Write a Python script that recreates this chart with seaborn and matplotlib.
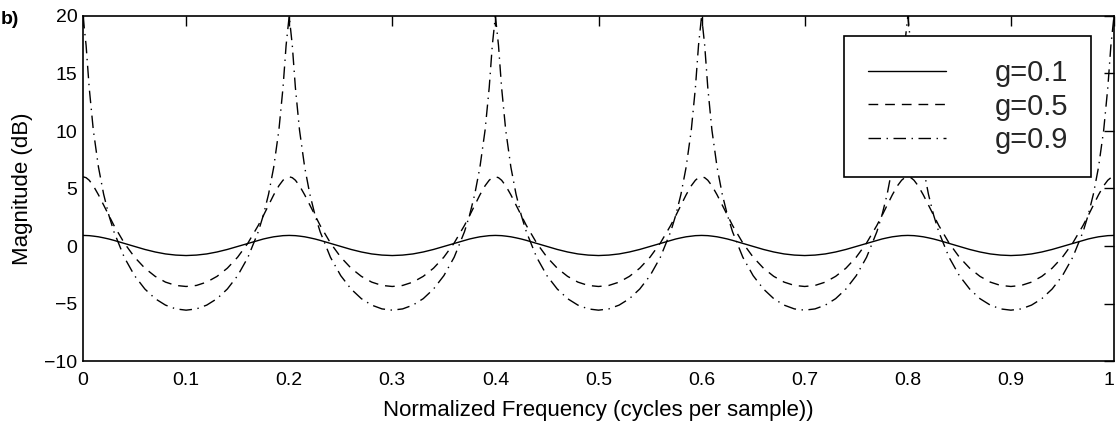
import matplotlib
matplotlib.use("Agg")
import matplotlib.pyplot as plt
import seaborn as sns
import pandas as pd

# ---- data ----
freq = [
    0.000, 0.003, 0.006, 0.010, 0.015, 0.020, 0.025, 0.030, 0.040, 0.050, 0.060, 0.070, 0.080, 0.090, 0.100, 0.110, 0.120, 0.130, 0.140, 0.150, 0.160, 0.170, 0.175, 0.180, 0.185, 0.190, 0.194, 0.197,
    0.200, 0.203, 0.206, 0.210, 0.215, 0.220, 0.225, 0.230, 0.240, 0.250, 0.260, 0.270, 0.280, 0.290, 0.300, 0.310, 0.320, 0.330, 0.340, 0.350, 0.360, 0.370, 0.375, 0.380, 0.385, 0.390, 0.394, 0.397,
    0.400, 0.403, 0.406, 0.410, 0.415, 0.420, 0.425, 0.430, 0.440, 0.450, 0.460, 0.470, 0.480, 0.490, 0.500, 0.510, 0.520, 0.530, 0.540, 0.550, 0.560, 0.570, 0.575, 0.580, 0.585, 0.590, 0.594, 0.597,
    0.600, 0.603, 0.606, 0.610, 0.615, 0.620, 0.625, 0.630, 0.640, 0.650, 0.660, 0.670, 0.680, 0.690, 0.700, 0.710, 0.720, 0.730, 0.740, 0.750, 0.760, 0.770, 0.775, 0.780, 0.785, 0.790, 0.794, 0.797,
    0.800, 0.803, 0.806, 0.810, 0.815, 0.820, 0.825, 0.830, 0.840, 0.850, 0.860, 0.870, 0.880, 0.890, 0.900, 0.910, 0.920, 0.930, 0.940, 0.950, 0.960, 0.970, 0.975, 0.980, 0.985, 0.990, 0.994, 0.997,
    1.000,
]

mag_g01 = [
    0.92, 0.91, 0.90, 0.86, 0.80, 0.71, 0.61, 0.49, 0.23, -0.04, -0.30, -0.52, -0.69, -0.79, -0.83, -0.79, -0.69, -0.52, -0.30, -0.04, 0.23, 0.49, 0.61, 0.71, 0.80, 0.86, 0.90, 0.91,
    0.92, 0.91, 0.90, 0.86, 0.80, 0.71, 0.61, 0.49, 0.23, -0.04, -0.30, -0.52, -0.69, -0.79, -0.83, -0.79, -0.69, -0.52, -0.30, -0.04, 0.23, 0.49, 0.61, 0.71, 0.80, 0.86, 0.90, 0.91,
    0.92, 0.91, 0.90, 0.86, 0.80, 0.71, 0.61, 0.49, 0.23, -0.04, -0.30, -0.52, -0.69, -0.79, -0.83, -0.79, -0.69, -0.52, -0.30, -0.04, 0.23, 0.49, 0.61, 0.71, 0.80, 0.86, 0.90, 0.91,
    0.92, 0.91, 0.90, 0.86, 0.80, 0.71, 0.61, 0.49, 0.23, -0.04, -0.30, -0.52, -0.69, -0.79, -0.83, -0.79, -0.69, -0.52, -0.30, -0.04, 0.23, 0.49, 0.61, 0.71, 0.80, 0.86, 0.90, 0.91,
    0.92, 0.91, 0.90, 0.86, 0.80, 0.71, 0.61, 0.49, 0.23, -0.04, -0.30, -0.52, -0.69, -0.79, -0.83, -0.79, -0.69, -0.52, -0.30, -0.04, 0.23, 0.49, 0.61, 0.71, 0.80, 0.86, 0.90, 0.91,
    0.92,
]

mag_g05 = [
    6.02, 5.94, 5.72, 5.24, 4.45, 3.56, 2.65, 1.79, 0.26, -0.97, -1.93, -2.64, -3.14, -3.43, -3.52, -3.43, -3.14, -2.64, -1.93, -0.97, 0.26, 1.79, 2.65, 3.56, 4.45, 5.24, 5.72, 5.94,
    6.02, 5.94, 5.72, 5.24, 4.45, 3.56, 2.65, 1.79, 0.26, -0.97, -1.93, -2.64, -3.14, -3.43, -3.52, -3.43, -3.14, -2.64, -1.93, -0.97, 0.26, 1.79, 2.65, 3.56, 4.45, 5.24, 5.72, 5.94,
    6.02, 5.94, 5.72, 5.24, 4.45, 3.56, 2.65, 1.79, 0.26, -0.97, -1.93, -2.64, -3.14, -3.43, -3.52, -3.43, -3.14, -2.64, -1.93, -0.97, 0.26, 1.79, 2.65, 3.56, 4.45, 5.24, 5.72, 5.94,
    6.02, 5.94, 5.72, 5.24, 4.45, 3.56, 2.65, 1.79, 0.26, -0.97, -1.93, -2.64, -3.14, -3.43, -3.52, -3.43, -3.14, -2.64, -1.93, -0.97, 0.26, 1.79, 2.65, 3.56, 4.45, 5.24, 5.72, 5.94,
    6.02, 5.94, 5.72, 5.24, 4.45, 3.56, 2.65, 1.79, 0.26, -0.97, -1.93, -2.64, -3.14, -3.43, -3.52, -3.43, -3.14, -2.64, -1.93, -0.97, 0.26, 1.79, 2.65, 3.56, 4.45, 5.24, 5.72, 5.94,
    6.02,
]

mag_g09 = [
    20.00, 17.45, 13.78, 10.08, 6.86, 4.51, 2.70, 1.24, -0.98, -2.58, -3.74, -4.58, -5.14, -5.47, -5.58, -5.47, -5.14, -4.58, -3.74, -2.58, -0.98, 1.24, 2.70, 4.51, 6.86, 10.08, 13.78, 17.45,
    20.00, 17.45, 13.78, 10.08, 6.86, 4.51, 2.70, 1.24, -0.98, -2.58, -3.74, -4.58, -5.14, -5.47, -5.58, -5.47, -5.14, -4.58, -3.74, -2.58, -0.98, 1.24, 2.70, 4.51, 6.86, 10.08, 13.78, 17.45,
    20.00, 17.45, 13.78, 10.08, 6.86, 4.51, 2.70, 1.24, -0.98, -2.58, -3.74, -4.58, -5.14, -5.47, -5.58, -5.47, -5.14, -4.58, -3.74, -2.58, -0.98, 1.24, 2.70, 4.51, 6.86, 10.08, 13.78, 17.45,
    20.00, 17.45, 13.78, 10.08, 6.86, 4.51, 2.70, 1.24, -0.98, -2.58, -3.74, -4.58, -5.14, -5.47, -5.58, -5.47, -5.14, -4.58, -3.74, -2.58, -0.98, 1.24, 2.70, 4.51, 6.86, 10.08, 13.78, 17.45,
    20.00, 17.45, 13.78, 10.08, 6.86, 4.51, 2.70, 1.24, -0.98, -2.58, -3.74, -4.58, -5.14, -5.47, -5.58, -5.47, -5.14, -4.58, -3.74, -2.58, -0.98, 1.24, 2.70, 4.51, 6.86, 10.08, 13.78, 17.45,
    20.00,
]

series_labels = ["g=0.1", "g=0.5", "g=0.9"]
x_ticks = [0, 0.1, 0.2, 0.3, 0.4, 0.5, 0.6, 0.7, 0.8, 0.9, 1.0]
x_tick_labels = ["0", "0.1", "0.2", "0.3", "0.4", "0.5", "0.6", "0.7", "0.8", "0.9", "1"]
y_ticks = [-10, -5, 0, 5, 10, 15, 20]

# ---- styling ----
sns.set_theme(style="white")
plt.rcParams["font.family"] = ["Liberation Sans", "DejaVu Sans"]
plt.rcParams["axes.unicode_minus"] = True

fig = plt.figure(figsize=(11.17, 4.23), dpi=100)
ax = fig.add_axes([83 / 1117, 1 - 361 / 423, (1114 - 83) / 1117, (361 - 16) / 423])

df = pd.DataFrame({"freq": freq, series_labels[0]: mag_g01,
                   series_labels[1]: mag_g05, series_labels[2]: mag_g09})

styles = ["-", (0, (7, 5)), (0, (9, 4, 1, 4))]
for lab, ls in zip(series_labels, styles):
    sns.lineplot(data=df, x="freq", y=lab, ax=ax, color="black", linewidth=1.0,
                 linestyle=ls, label=lab, estimator=None, sort=False)

ax.set_xlim(0, 1)
ax.set_ylim(-10, 20)
ax.set_xticks(x_ticks)
ax.set_xticklabels(x_tick_labels)
ax.set_yticks(y_ticks)
ax.tick_params(direction="in", top=True, right=True, length=7, width=1.0,
               labelsize=14, colors="black", pad=4)
ax.tick_params(axis="x", pad=8)
# keep the last label "1" inside the canvas
ax.get_xticklabels()[-1].set_horizontalalignment("right")
for sp in ax.spines.values():
    sp.set_visible(True)
    sp.set_color("black")
    sp.set_linewidth(1.2)

ax.set_xlabel("Normalized Frequency (cycles per sample))", fontsize=16, labelpad=8, color="black")
ax.set_ylabel("Magnitude (dB)", fontsize=16, labelpad=8, color="black")

leg = ax.legend(loc="upper right", bbox_to_anchor=(0.978, 0.942), borderaxespad=0,
                fontsize=21, handlelength=2.7, handletextpad=1.65, labelspacing=0.18,
                borderpad=0.8, frameon=True, fancybox=False, framealpha=1,
                edgecolor="black")
leg.get_frame().set_linewidth(1.2)
leg.set_zorder(10)

fig.text(0.001, 1 - 20 / 423, "b)", fontsize=14, fontweight="bold",
         ha="left", va="center", color="black")

fig.savefig("out.png", dpi=100)
